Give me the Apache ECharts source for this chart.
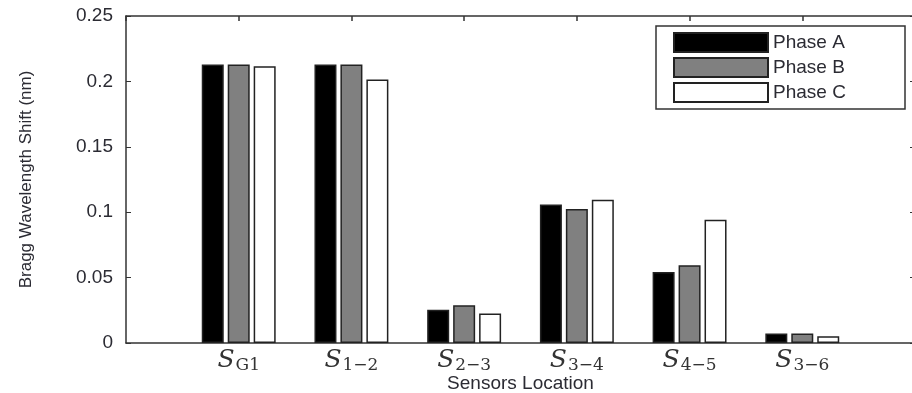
<!DOCTYPE html>
<html>
<head>
<meta charset="utf-8">
<script src="https://cdn.jsdelivr.net/npm/echarts@6/dist/echarts.min.js"></script>
<style>
  html, body { margin: 0; padding: 0; background: #fff; }
  #chart { width: 912px; height: 393px; }
</style>
</head>
<body>
<div id="chart"></div>
<script>
// Sensor locations (subscript part of each S label)
const sensors = ['G1', '1\u22122', '2\u22123', '3\u22124', '4\u22125', '3\u22126'];
// Bragg wavelength shift per phase (nm)
const phaseA = [0.213, 0.213, 0.0255, 0.1058, 0.0543, 0.0072];
const phaseB = [0.213, 0.213, 0.0288, 0.1025, 0.0594, 0.0072];
const phaseC = [0.2115, 0.2014, 0.0225, 0.1096, 0.0943, 0.0051];
const phaseNames = ['Phase A', 'Phase B', 'Phase C'];
const yTicks = [0, 0.05, 0.1, 0.15, 0.2, 0.25];

// Empty slots at both ends give the axis limits 0 and 7 around the six groups
const cats = [''].concat(sensors, ['']);
const pad = v => [null].concat(v, [null]);

const textColor = '#2b2b33';
const font = 'Liberation Sans, Arial, sans-serif';

const barStyle = (fill) => ({
  color: fill,
  borderColor: '#222',
  borderWidth: 1.5
});

const chart = echarts.init(document.getElementById('chart'));
chart.setOption({
  animation: false,
  backgroundColor: '#fff',
  grid: { left: 126, right: -3, top: 16, bottom: 50, containLabel: false, outerBoundsMode: 'none' },
  legend: {
    orient: 'vertical',
    left: 656,
    top: 26,
    padding: [6, 0, 6, 17],
    itemGap: 4,
    itemWidth: 94,
    itemHeight: 19,
    backgroundColor: '#fff',
    borderColor: '#333',
    borderWidth: 1.5,
    borderRadius: 0,
    icon: 'rect',
    selectedMode: false,
    textStyle: { fontFamily: font, fontSize: 19, color: textColor, width: 132, lineHeight: 19 },
    data: phaseNames
  },
  xAxis: [{
    type: 'category',
    data: cats,
    boundaryGap: false,
    position: 'bottom',
    name: 'Sensors Location',
    nameLocation: 'middle',
    nameGap: 31,
    nameMoveOverlap: false,
    nameTextStyle: { fontFamily: font, fontSize: 19, color: textColor, verticalAlign: 'top' },
    axisLine: { onZero: false, lineStyle: { color: '#333', width: 1.5 } },
    axisTick: { show: false },
    axisLabel: {
      interval: 0,
      margin: 5,
      formatter: v => v ? '{s|S}{sub|' + v + '}' : '',
      rich: {
        s: { fontFamily: 'DejaVu Serif, serif', fontStyle: 'italic', fontSize: 25, color: '#333', lineHeight: 26, verticalAlign: 'top' },
        sub: { fontFamily: 'DejaVu Serif, serif', fontSize: 17, color: '#333', lineHeight: 26, padding: [9, 0, 0, 1], verticalAlign: 'top' }
      }
    },
    splitLine: { show: false }
  }, {
    type: 'category',
    data: cats,
    boundaryGap: false,
    position: 'top',
    axisLine: { show: true, onZero: false, lineStyle: { color: '#333', width: 1.5 } },
    axisTick: { show: true, inside: true, length: 5, interval: 0, lineStyle: { color: '#333', width: 1.5 } },
    axisLabel: { show: false },
    splitLine: { show: false }
  }],
  yAxis: [{
    type: 'value',
    min: 0,
    max: 0.25,
    interval: 0.05,
    name: 'Bragg Wavelength Shift (nm)',
    nameLocation: 'middle',
    nameGap: 91,
    nameTextStyle: { fontFamily: font, fontSize: 17, color: textColor },
    axisLine: { show: true, onZero: false, lineStyle: { color: '#333', width: 1.5 } },
    axisTick: { show: true, inside: true, length: 5, lineStyle: { color: '#333' } },
    axisLabel: {
      fontFamily: font, fontSize: 19, color: textColor, margin: 13,
      formatter: v => String(yTicks.find(t => Math.abs(t - v) < 1e-9) ?? v)
    },
    splitLine: { show: false }
  }, {
    type: 'value',
    min: 0,
    max: 0.25,
    interval: 0.05,
    position: 'right',
    axisLine: { show: true, onZero: false, lineStyle: { color: '#333', width: 1.5 } },
    axisTick: { show: true, inside: true, length: 5, lineStyle: { color: '#333' } },
    axisLabel: { show: false },
    splitLine: { show: false }
  }],
  series: [
    { name: phaseNames[0], type: 'bar', data: pad(phaseA), barWidth: 22, barGap: '18%', itemStyle: barStyle('#000') },
    { name: phaseNames[1], type: 'bar', data: pad(phaseB), barWidth: 22, barGap: '18%', itemStyle: barStyle('#808080') },
    { name: phaseNames[2], type: 'bar', data: pad(phaseC), barWidth: 22, barGap: '18%', itemStyle: barStyle('#fff') }
  ]
});
</script>
</body>
</html>
